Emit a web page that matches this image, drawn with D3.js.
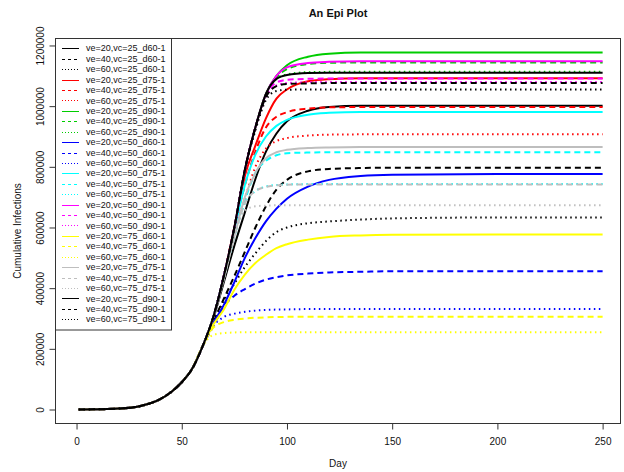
<!DOCTYPE html>
<html><head><meta charset="utf-8">
<script src="https://cdn.jsdelivr.net/npm/d3@7/dist/d3.min.js"></script>
<style>body{margin:0;background:#fff}svg{display:block}</style>
</head><body><svg id="c" width="624" height="472"></svg>
<script>
// ---------------- data ----------------
const days = [1,10,20,30,40,45,50,55,60,65,70,75,80,85,90,95,100,110,120,135,150,200,250];

const seriesNames = [
 "ve=20,vc=25_d60-1","ve=40,vc=25_d60-1","ve=60,vc=25_d60-1",
 "ve=20,vc=25_d75-1","ve=40,vc=25_d75-1","ve=60,vc=25_d75-1",
 "ve=20,vc=25_d90-1","ve=40,vc=25_d90-1","ve=60,vc=25_d90-1",
 "ve=20,vc=50_d60-1","ve=40,vc=50_d60-1","ve=60,vc=50_d60-1",
 "ve=20,vc=50_d75-1","ve=40,vc=50_d75-1","ve=60,vc=50_d75-1",
 "ve=20,vc=50_d90-1","ve=40,vc=50_d90-1","ve=60,vc=50_d90-1",
 "ve=20,vc=75_d60-1","ve=40,vc=75_d60-1","ve=60,vc=75_d60-1",
 "ve=20,vc=75_d75-1","ve=40,vc=75_d75-1","ve=60,vc=75_d75-1",
 "ve=20,vc=75_d90-1","ve=40,vc=75_d90-1","ve=60,vc=75_d90-1"
];

// cumulative infections at the days above, one row per series
const cumulativeInfections = [
 [0,800,3000,11000,35000,58000,90000,135000,210000,300000,420000,540000,650000,760000,850000,910000,950000,985000,997000,1001000,1001000,1001000,1001000],
 [0,800,3000,11000,35000,58000,90000,135000,210000,290000,365000,440000,520000,600000,670000,725000,757000,785000,793000,796000,797000,797000,797000],
 [0,800,3000,11000,35000,58000,90000,135000,210000,285000,360000,415000,470000,515000,555000,585000,600000,614000,620000,626000,630000,633000,633000],
 [0,800,3000,11000,35000,58000,90000,135000,210000,305000,440000,600000,770000,870000,960000,1025000,1055000,1082000,1089000,1092000,1092000,1092000,1092000],
 [0,800,3000,11000,35000,58000,90000,135000,210000,305000,440000,600000,740000,850000,930000,965000,980000,992000,996000,997000,997000,997000,997000],
 [0,800,3000,11000,35000,58000,90000,135000,210000,305000,440000,585000,695000,800000,860000,885000,895000,903000,906000,907000,907000,907000,907000],
 [0,800,3000,11000,35000,58000,90000,135000,210000,305000,440000,600000,790000,930000,1040000,1100000,1135000,1163000,1173000,1177000,1177000,1177000,1177000],
 [0,800,3000,11000,35000,58000,90000,135000,210000,305000,440000,600000,790000,930000,1040000,1095000,1122000,1139000,1143000,1144000,1144000,1144000,1144000],
 [0,800,3000,11000,35000,58000,90000,135000,210000,305000,440000,600000,790000,930000,1040000,1090000,1105000,1112000,1113000,1113000,1113000,1113000,1113000],
 [0,800,3000,11000,35000,58000,90000,135000,210000,285000,345000,420000,500000,565000,620000,662000,695000,735000,757000,770000,774000,776000,776000],
 [0,800,3000,11000,35000,58000,90000,135000,210000,275000,340000,375000,397000,415000,428000,436000,442000,448000,452000,454000,456000,456000,456000],
 [0,800,3000,11000,35000,58000,90000,135000,210000,275000,305000,316000,322000,326000,328000,329500,330000,331000,331000,331000,331000,331000,331000],
 [0,800,3000,11000,35000,58000,90000,135000,210000,305000,440000,590000,740000,840000,900000,935000,955000,972000,978000,981000,981000,981000,981000],
 [0,800,3000,11000,35000,58000,90000,135000,210000,305000,435000,570000,690000,780000,820000,838000,845000,847000,848000,848000,848000,848000,848000],
 [0,800,3000,11000,35000,58000,90000,135000,210000,305000,435000,570000,680000,720000,735000,740000,742000,743000,743000,743000,743000,743000,743000],
 [0,800,3000,11000,35000,58000,90000,135000,210000,305000,440000,600000,790000,930000,1040000,1100000,1128000,1142000,1146000,1148000,1148000,1148000,1148000],
 [0,800,3000,11000,35000,58000,90000,135000,210000,305000,440000,600000,790000,930000,1035000,1078000,1087000,1090000,1091000,1091000,1091000,1091000,1091000],
 [0,800,3000,11000,35000,58000,90000,135000,210000,305000,440000,600000,790000,930000,1030000,1068000,1076000,1079000,1080000,1080000,1080000,1080000,1080000],
 [0,800,3000,11000,35000,58000,90000,135000,210000,280000,330000,395000,445000,483000,510000,532000,545000,560000,569000,574000,576000,577000,577000],
 [0,800,3000,11000,35000,58000,90000,135000,210000,270000,288000,296000,300000,302500,304000,305000,305500,306000,306000,306000,306000,306000,306000],
 [0,800,3000,11000,35000,58000,90000,135000,210000,246000,252000,254000,255000,255000,255000,255000,255000,255000,255000,255000,255000,255000,255000],
 [0,800,3000,11000,35000,58000,90000,135000,210000,305000,430000,570000,700000,780000,828000,848000,856000,862000,864000,865000,865000,865000,865000],
 [0,800,3000,11000,35000,58000,90000,135000,210000,305000,435000,570000,680000,720000,734000,739000,741000,742000,742000,742000,742000,742000,742000],
 [0,800,3000,11000,35000,58000,90000,135000,210000,305000,430000,575000,655000,670000,672000,673000,673000,673000,673000,673000,673000,673000,673000],
 [0,800,3000,11000,35000,58000,90000,135000,210000,305000,440000,600000,790000,930000,1040000,1090000,1103000,1109000,1110000,1110000,1110000,1110000,1110000],
 [0,800,3000,11000,35000,58000,90000,135000,210000,305000,440000,600000,790000,930000,1030000,1066000,1073000,1075000,1076000,1076000,1076000,1076000,1076000],
 [0,800,3000,11000,35000,58000,90000,135000,210000,305000,440000,600000,790000,920000,1020000,1050000,1054000,1055000,1055000,1055000,1055000,1055000,1055000]
];

const xTicks = [0,50,100,150,200,250];
const yTicks = [0,200000,400000,600000,800000,1000000,1200000];

// ---------------- styles ----------------
const groupColors = ["#000000","#FF0000","#00CD00","#0000FF","#00FFFF","#FF00FF","#FFFF00","#BEBEBE","#000000"];
const plotDash = ["none","6,4","1.5,3.5"];
const legendDash = ["none","3,3","1,2"];
const FONT = "'Liberation Sans', Arial, Helvetica, sans-serif";

const svg = d3.select("#c");
const L = 55.5, R = 620.5, T = 38.5, B = 423.5;

const x = d3.scaleLinear().domain([-10, 258.5]).range([L, R]);
const y = d3.scaleLinear().domain([-46100, 1223000]).range([B, T]);

svg.append("defs").append("clipPath").attr("id","clip")
  .append("rect").attr("x",L).attr("y",T).attr("width",R-L).attr("height",B-T);

// lines
const line = d3.line().x((d,i)=>x(days[i])).y(d=>y(d)).curve(d3.curveMonotoneX);
const g = svg.append("g").attr("clip-path","url(#clip)");
cumulativeInfections.forEach((vals,k)=>{
  g.append("path").attr("d", line(vals))
   .attr("fill","none")
   .attr("stroke", groupColors[Math.floor(k/3)])
   .attr("stroke-width", 2)
   .attr("stroke-dasharray", plotDash[k%3])
   .attr("stroke-linejoin","round");
});

// box
svg.append("rect").attr("x",L).attr("y",T).attr("width",R-L).attr("height",B-T)
  .attr("fill","none").attr("stroke","#333").attr("stroke-width",1);

// x axis
const xa = svg.append("g").attr("transform",`translate(0,${B})`)
  .call(d3.axisBottom(x).tickValues(xTicks).tickSize(6).tickSizeOuter(0).tickPadding(8).tickFormat(d3.format("d")));
xa.select(".domain").attr("d", `M${x(0)},0H${x(250)}`).attr("stroke","#333");
xa.selectAll(".tick line").attr("stroke","#333");
xa.selectAll("text").attr("font-family",FONT).attr("font-size",10).attr("fill","#111");

// y axis
const ya = svg.append("g").attr("transform",`translate(${L},0)`)
  .call(d3.axisLeft(y).tickValues(yTicks).tickSize(6).tickSizeOuter(0).tickFormat(d3.format("d")));
ya.select(".domain").attr("d", `M0,${y(0)}V${y(1200000)}`).attr("stroke","#333");
ya.selectAll(".tick line").attr("stroke","#333");
ya.selectAll(".tick text").attr("font-family",FONT).attr("font-size",10).attr("fill","#111")
  .attr("text-anchor","middle").attr("x",0).attr("dy",0)
  .attr("transform","translate(-12,0) rotate(-90)");

// titles
svg.append("text").attr("x",(L+R)/2).attr("y",17).attr("text-anchor","middle")
  .attr("font-family",FONT).attr("font-size",11).attr("font-weight","bold").attr("fill","#111").text("An Epi Plot");
svg.append("text").attr("x",(L+R)/2).attr("y",467).attr("text-anchor","middle")
  .attr("font-family",FONT).attr("font-size",10).attr("fill","#111").text("Day");
svg.append("text").attr("transform",`translate(21,${(T+B)/2}) rotate(-90)`).attr("text-anchor","middle")
  .attr("font-family",FONT).attr("font-size",10).attr("fill","#111").text("Cumulative Infections");

// legend
const lg = svg.append("g");
lg.append("rect").attr("x",L).attr("y",T).attr("width",116).attr("height",291.5)
  .attr("fill","#fff").attr("stroke","#333").attr("stroke-width",1);
seriesNames.forEach((name,k)=>{
  const yy = 48.3 + 10.42*k;
  const ly = Math.round(yy) + 0.5;
  lg.append("line").attr("x1",62).attr("x2",79).attr("y1",ly).attr("y2",ly)
    .attr("stroke",groupColors[Math.floor(k/3)]).attr("stroke-width",1)
    .attr("stroke-dasharray",legendDash[k%3]);
  lg.append("text").attr("x",86).attr("y",yy).attr("dy","0.35em")
    .attr("font-family",FONT).attr("font-size",9).attr("fill","#111").text(name);
});
</script>
</body></html>
